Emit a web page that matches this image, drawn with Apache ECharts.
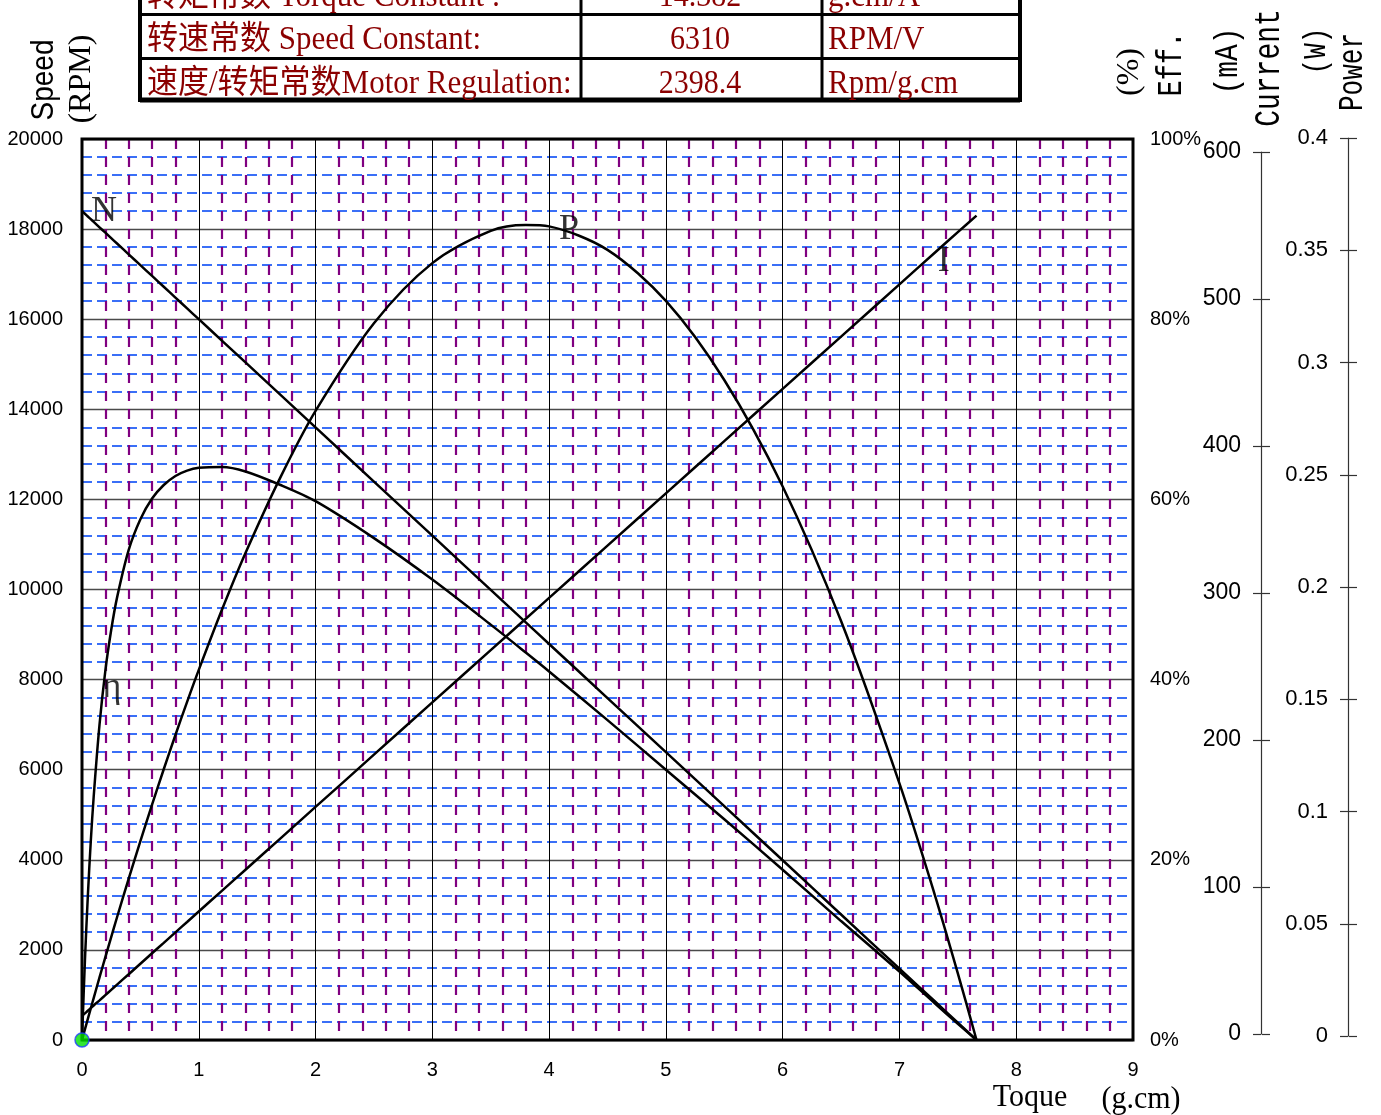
<!DOCTYPE html>
<html><head><meta charset="utf-8">
<script src="https://cdn.jsdelivr.net/npm/echarts@6/dist/echarts.min.js"></script>
<style>html,body{margin:0;padding:0;background:#fff;overflow:hidden}#c{width:1381px;height:1115px}</style>
</head><body><div id="c"></div>
<script>
// Torque (g.cm)
const torque = [0, 0.025, 0.05, 0.075, 0.1, 0.15, 0.2, 0.25, 0.3, 0.4, 0.5, 0.6, 0.7, 0.8, 0.9, 1.0, 1.2, 1.4, 1.7, 2.0, 2.5, 3.0, 3.5, 3.8, 4.0, 4.5, 5.0, 5.5, 6.0, 6.5, 7.0, 7.3, 7.5, 7.66];
// Speed (RPM)
const speed = [18400, 18340, 18280, 18220, 18160, 18040, 17920, 17800, 17680, 17440, 17200, 16960, 16720, 16480, 16240, 16000, 15520, 15040, 14320, 13600, 12395, 11195, 9990, 9270, 8790, 7590, 6390, 5190, 3990, 2785, 1585, 865, 385, 0];
// Current (mA)
const current = [16, 17.7, 19.5, 21.2, 23.0, 26.4, 29.9, 33.4, 36.9, 43.8, 50.8, 57.8, 64.7, 71.7, 78.6, 85.6, 99.5, 113.4, 134.3, 155.2, 190, 224.8, 259.6, 280.5, 294.4, 329.2, 364, 398.8, 433.6, 468.4, 503.2, 524.1, 538, 549];
// Output power (W)
const power = [0, 0.0047, 0.0094, 0.0140, 0.0186, 0.0278, 0.0368, 0.0457, 0.0545, 0.0716, 0.0883, 0.1045, 0.1202, 0.1354, 0.1501, 0.1643, 0.1912, 0.2162, 0.2499, 0.2793, 0.3182, 0.3449, 0.3592, 0.3618, 0.3612, 0.3508, 0.3281, 0.2930, 0.2457, 0.1860, 0.1139, 0.0649, 0.0296, 0];
// Efficiency (%)
const efficiency = [0, 8.8, 16.0, 22.0, 27.0, 35.0, 41.0, 45.5, 49.1, 54.4, 57.8, 60.1, 61.6, 62.6, 63.2, 63.5, 63.6, 63.1, 61.6, 59.8, 55.7, 51.1, 46.1, 43.0, 40.9, 35.5, 30.0, 24.5, 18.9, 13.2, 7.6, 4.1, 1.8, 0];

const tableLabels = ['转矩常数 Torque Constant :', '转速常数 Speed Constant:', '速度/转矩常数Motor Regulation:'];
const tableValues = ['14.382', '6310', '2398.4'];
const tableUnits = ['g.cm/A', 'RPM/V', 'Rpm/g.cm'];

const chart = echarts.init(document.getElementById('c'));
const pairs = arr => torque.map((t, i) => [t, arr[i]]);

const SANS = 'Liberation Sans';
const SERIF = 'Liberation Serif, Noto Sans CJK SC';
const MONO = 'Liberation Mono';
const RED = '#8b0000';

function txt(x, y, text, size, family, opts) {
  opts = opts || {};
  return {
    type: 'text', x: x, y: y, rotation: opts.rot || 0, scaleY: opts.sy || 1, z: 100,
    style: { text: text, fontSize: size, fontFamily: family, fill: opts.fill || '#000',
      align: opts.align || 'center', verticalAlign: 'middle' }
  };
}

const graphics = [];
// Table
const tL = 140, tR = 1020, tTop = -30, tBot = 100;
graphics.push({ type: 'rect', z: 90, shape: { x: tL, y: tTop, width: tR - tL, height: tBot - tTop }, style: { fill: '#fff', stroke: '#000', lineWidth: 4 } });
graphics.push({ type: 'line', z: 91, shape: { x1: tL, y1: 100, x2: tR, y2: 100 }, style: { stroke: '#000', lineWidth: 5 } });
[14.5, 58.5].forEach(y => graphics.push({ type: 'line', z: 91, shape: { x1: tL, y1: y, x2: tR, y2: y }, style: { stroke: '#000', lineWidth: 3 } }));
[581, 822].forEach(x => graphics.push({ type: 'line', z: 91, shape: { x1: x, y1: tTop, x2: x, y2: tBot }, style: { stroke: '#000', lineWidth: 3 } }));
const rowY = [-3, 40, 84];
tableLabels.forEach((s, i) => graphics.push(txt(147, rowY[i], s, 31, SERIF, { fill: RED, align: 'left', sy: 1.08 })));
tableValues.forEach((s, i) => graphics.push(txt(700, rowY[i], s, 30, SERIF, { fill: RED, sy: 1.1 })));
tableUnits.forEach((s, i) => graphics.push(txt(828, rowY[i], s, 31, SERIF, { fill: RED, align: 'left', sy: 1.08 })));

// Axis titles
const R = Math.PI / 2;
graphics.push(txt(45, 80, 'Speed', 28, SANS, { rot: R, sy: 1.1 }));
graphics.push(txt(82, 79, '(RPM)', 32, SERIF, { rot: R }));
graphics.push(txt(1130, 72, '(%)', 32, SERIF, { rot: R }));
graphics.push(txt(1172, 64, 'Eff.', 27, MONO, { rot: R, sy: 1.3 }));
graphics.push(txt(1228, 61, '(mA)', 28, MONO, { rot: R, sy: 1.2 }));
graphics.push(txt(1269, 68, 'Current', 28, MONO, { rot: R, sy: 1.35 }));
graphics.push(txt(1317, 51, '(W)', 26, MONO, { rot: R, sy: 1.2 }));
graphics.push(txt(1353, 72, 'Power', 26, MONO, { rot: R, sy: 1.35 }));
graphics.push(txt(1030, 1097, 'Toque', 30, SERIF, { sy: 1.08 }));
graphics.push(txt(1141, 1099, '(g.cm)', 30, SERIF, { sy: 1.08 }));

const lineStyle = { color: '#000', width: 2.5 };
const curve = (name, yIdx, arr) => ({
  name: name, type: 'line', xAxisIndex: 0, yAxisIndex: yIdx, data: pairs(arr),
  symbol: 'none', smooth: 0.3, lineStyle: lineStyle, z: 5, animation: false
});
const plain = v => String(v);

const option = {
  animation: false,
  backgroundColor: '#fff',
  grid: [
    { left: 82, top: 139, width: 1051, height: 901, show: true, borderColor: '#000', borderWidth: 3, backgroundColor: 'transparent', z: 3 },
    { left: 1261, top: 152, width: 1, height: 882 },
    { left: 1348, top: 138, width: 1, height: 898 }
  ],
  xAxis: [
    { gridIndex: 0, type: 'value', min: 0, max: 9, interval: 1,
      axisLine: { show: false }, axisTick: { show: false },
      axisLabel: { fontSize: 20, fontFamily: SANS, color: '#000', margin: 20, formatter: plain },
      splitLine: { show: true, lineStyle: { color: '#000', width: 1 } },
      minorTick: { show: false, splitNumber: 5 },
      minorSplitLine: { show: true, lineStyle: { color: '#800080', width: 2.2, type: [10, 8] } } },
    { gridIndex: 1, type: 'value', min: 0, max: 1, show: false },
    { gridIndex: 2, type: 'value', min: 0, max: 1, show: false }
  ],
  yAxis: [
    { gridIndex: 0, type: 'value', min: 0, max: 20000, interval: 2000,
      axisLine: { show: false }, axisTick: { show: false },
      axisLabel: { fontSize: 20, fontFamily: SANS, color: '#000', margin: 19, formatter: plain },
      splitLine: { show: true, lineStyle: { color: '#4a4a4a', width: 1.3 } },
      minorTick: { show: false, splitNumber: 5 },
      minorSplitLine: { show: true, lineStyle: { color: '#3a6ff7', width: 2.2, type: [10, 5] } } },
    { gridIndex: 0, type: 'value', position: 'right', min: 0, max: 100, interval: 20,
      axisLine: { show: false }, axisTick: { show: false }, splitLine: { show: false },
      axisLabel: { formatter: '{value}%', fontSize: 20, fontFamily: SANS, color: '#000', margin: 17 } },
    { gridIndex: 0, type: 'value', min: 0, max: 600, show: false, splitLine: { show: false } },
    { gridIndex: 0, type: 'value', min: 0, max: 0.4, show: false, splitLine: { show: false } },
    { gridIndex: 1, type: 'value', position: 'left', min: 0, max: 600, interval: 100,
      axisLine: { show: true, lineStyle: { color: '#333', width: 1.2 } },
      axisTick: { show: true, length: 8, lineStyle: { color: '#333', width: 1.2 } },
      axisLabel: { fontSize: 23, fontFamily: SANS, color: '#000', margin: 20, formatter: plain }, splitLine: { show: false } },
    { gridIndex: 1, type: 'value', position: 'right', min: 0, max: 600, interval: 100,
      axisLine: { show: false }, axisLabel: { show: false },
      axisTick: { show: true, length: 8, lineStyle: { color: '#333', width: 1.2 } }, splitLine: { show: false } },
    { gridIndex: 2, type: 'value', position: 'left', min: 0, max: 0.4, interval: 0.05,
      axisLine: { show: true, lineStyle: { color: '#333', width: 1.2 } },
      axisTick: { show: true, length: 8, lineStyle: { color: '#333', width: 1.2 } },
      axisLabel: { fontSize: 22, fontFamily: SANS, color: '#000', margin: 20 }, splitLine: { show: false } },
    { gridIndex: 2, type: 'value', position: 'right', min: 0, max: 0.4, interval: 0.05,
      axisLine: { show: false }, axisLabel: { show: false },
      axisTick: { show: true, length: 8, lineStyle: { color: '#333', width: 1.2 } }, splitLine: { show: false } }
  ],
  series: [
    curve('N', 0, speed),
    curve('η', 1, efficiency),
    curve('I', 2, current),
    curve('P', 3, power),
    { type: 'scatter', xAxisIndex: 0, yAxisIndex: 0, data: [[0, 0]], symbolSize: 14, clip: false, z: 10,
      itemStyle: { color: '#00e000', borderColor: '#1f3fff', borderWidth: 1.5 } },
    { type: 'scatter', xAxisIndex: 0, yAxisIndex: 0, symbolSize: 1, clip: false, z: 11,
      itemStyle: { color: 'rgba(0,0,0,0)' },
      label: { show: true, position: 'inside', formatter: '{b}', fontSize: 36, fontFamily: SERIF,
        color: '#000', textBorderWidth: 0 },
      data: [
        { name: 'N', value: [0.188, 18380] },
        { name: 'P', value: [4.17, 17980] },
        { name: 'I', value: [7.38, 17270] },
        { name: 'η', value: [0.257, 7813] }
      ] }
  ],
  graphic: graphics
};
chart.setOption(option);
</script>
</body></html>
